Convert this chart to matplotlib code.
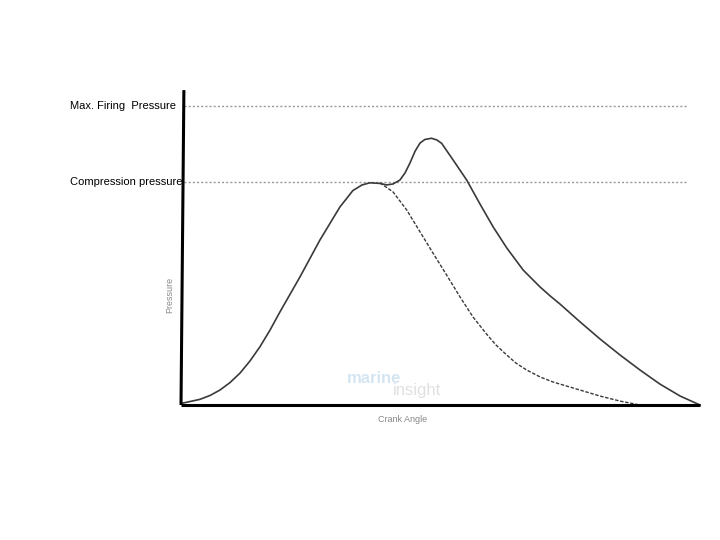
import matplotlib
matplotlib.use("Agg")
from matplotlib import pyplot as plt

# crank angle (deg) / pressure (% of max firing)
firing_angle = [0, 6.6, 10.1, 13.5, 17.0, 20.5, 23.9, 27.4, 30.9, 34.3, 41.3, 48.2, 55.1,
                59.6, 62.8, 65.5, 69.0, 71.3, 73.5, 75.9, 77.7, 79.4, 81.2, 82.9, 84.6,
                86.9, 88.8, 90.4, 94.4, 99.1, 103.7, 108.3, 113.0, 118.7, 124.5, 128.0,
                131.4, 138.4, 145.3, 152.3, 159.2, 166.1, 173.1, 180]
firing_pressure = [0.5, 1.9, 3.2, 5.0, 7.5, 10.7, 14.7, 19.5, 25.1, 31.1, 42.9, 55.2, 66.2,
                   71.7, 73.6, 74.3, 74.1, 73.6, 73.9, 75.2, 77.6, 80.9, 84.9, 87.6, 88.8,
                   89.2, 88.6, 87.5, 81.9, 75.2, 67.2, 59.5, 52.5, 45.1, 39.5, 36.5,
                   33.8, 27.8, 22.1, 16.7, 11.7, 7.0, 3.0, 0]

comp_angle = [69.0, 73.5, 78.3, 82.9, 87.4, 92.1, 96.8, 101.3, 106.0, 109.2, 113.0,
              116.2, 119.9, 124.5, 129.0, 138.4, 145.3, 152.3, 159.2]
comp_pressure = [74.3, 71.3, 65.2, 57.9, 50.8, 43.5, 36.1, 29.4, 23.7, 20.1, 16.7,
                 14.0, 11.7, 9.4, 7.7, 5.0, 3.0, 1.3, 0]

max_firing = 100
compression = 74.6

fig = plt.figure(figsize=(7.2, 5.4), dpi=100)
ax = fig.add_axes([0.2514, 0.25, 0.7208, 0.587])
ax.set_xlim(0, 180)
ax.set_ylim(0, 106)
ax.axis("off")

font = "Liberation Sans"

# reference levels
ax.plot([1, 175.8], [max_firing, max_firing], color="#999999", lw=1, ls=(0, (1.5, 1.5)), clip_on=False)
ax.plot([1, 175.8], [compression, compression], color="#999999", lw=1, ls=(0, (1.5, 1.5)), clip_on=False)

# curves
ax.plot(firing_angle, firing_pressure, color="#3a3a3a", lw=1.2, clip_on=False)
ax.plot(comp_angle, comp_pressure, color="#3a3a3a", lw=1.0, ls=(0, (2.5, 1.2)), clip_on=False)

# axis lines (y one slightly leaning)
ax.plot([0, 180], [0, 0], color="black", lw=2.2, clip_on=False, solid_capstyle="butt")
ax.plot([0, 1.0], [0, 105.3], color="black", lw=2.2, clip_on=False, solid_capstyle="butt")

ax.text(-38.5, max_firing, "Max. Firing  Pressure", fontsize=8, family=font, va="center", ha="left", clip_on=False)
ax.text(-38.5, compression, "Compression pressure", fontsize=8, family=font, va="center", ha="left", clip_on=False)
ax.text(-3.8, 36.8, "Pressure", fontsize=6.5, family=font, color="#888888", rotation=90,
        va="center", ha="center", clip_on=False)
ax.text(77, -4.7, "Crank Angle", fontsize=6.5, family=font, color="#888888",
        va="center", ha="center", clip_on=False)

# faint watermark
ax.text(67, 8.7, "marine", fontsize=12, family=font, weight="bold", color="#b8d4ea", alpha=0.6,
        va="center", ha="center")
ax.text(82, 5.0, "insight", fontsize=12, family=font, color="#cccccc", alpha=0.6,
        va="center", ha="center")

fig.savefig("out.png", dpi=100)
